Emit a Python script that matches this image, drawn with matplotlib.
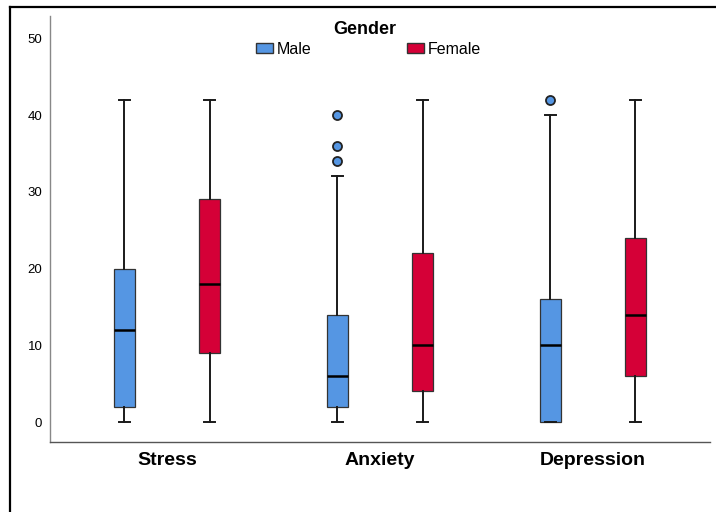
import matplotlib.pyplot as plt
from matplotlib.lines import Line2D
from matplotlib.patches import Rectangle

plt.rcParams['font.family'] = ['Liberation Sans', 'DejaVu Sans']

categories = ["Stress", "Anxiety", "Depression"]
groups = ["Male", "Female"]

# five-number summaries per scale: (whislo, q1, med, q3, whishi)
male_stats = [(0, 2, 12, 20, 42), (0, 2, 6, 14, 32), (0, 0, 10, 16, 40)]
female_stats = [(0, 9, 18, 29, 42), (0, 4, 10, 22, 42), (0, 6, 14, 24, 42)]
male_outliers = [[], [34, 36, 40], [42]]
female_outliers = [[], [], []]

colors = {"Male": "#5596e3", "Female": "#d50037"}
offsets = {"Male": -0.2, "Female": 0.2}

fig = plt.figure(figsize=(7.16, 5.12), dpi=100)
ax = fig.add_axes([0.0698, 0.1367, 0.9218, 0.832])


def to_bxp(stats, fliers, label):
    lo, q1, med, q3, hi = stats
    return dict(whislo=lo, q1=q1, med=med, q3=q3, whishi=hi,
                fliers=fliers, label=label)


for g, all_stats, all_out in [("Male", male_stats, male_outliers),
                              ("Female", female_stats, female_outliers)]:
    data = [to_bxp(s, o, c) for s, o, c in zip(all_stats, all_out, categories)]
    pos = [i + offsets[g] for i in range(len(categories))]
    ax.bxp(data, positions=pos, widths=0.1, patch_artist=True,
           showfliers=True, manage_ticks=False,
           boxprops=dict(facecolor=colors[g], edgecolor="#333333", linewidth=0.9),
           medianprops=dict(color="black", linewidth=1.8),
           whiskerprops=dict(color="#1a1a1a", linewidth=1.4),
           capprops=dict(color="#1a1a1a", linewidth=1.4),
           capwidths=0.05,
           flierprops=dict(marker="o", markersize=6.5, markerfacecolor=colors[g],
                           markeredgecolor="#222222", markeredgewidth=1.3))

ax.set_xlim(-0.55, 2.55)
ax.set_ylim(-2.6, 52.9)
ax.set_xticks(range(len(categories)))
ax.set_xticklabels(categories, fontsize=14, fontweight="bold")
ax.set_yticks([0, 10, 20, 30, 40, 50])
ax.tick_params(axis="y", length=0, labelsize=9.5, pad=5.5)
ax.tick_params(axis="x", length=0, pad=7)
for s in ["top", "right"]:
    ax.spines[s].set_visible(False)
ax.spines["left"].set_color("#888888")
ax.spines["bottom"].set_color("#555555")
ax.spines["left"].set_linewidth(1.0)
ax.spines["bottom"].set_linewidth(1.0)

# legend: title, colour keys and labels
fig.text(0.51, 0.943, "Gender", ha="center", va="center",
         fontsize=13, fontweight="bold")
key_x = {"Male": 0.3575, "Female": 0.5684}
for g in groups:
    fig.add_artist(Rectangle((key_x[g], 0.8965), 0.0237, 0.0195,
                             transform=fig.transFigure, facecolor=colors[g],
                             edgecolor="#333333", linewidth=1.0))
    fig.text(key_x[g] + 0.0295, 0.904, g, ha="left", va="center", fontsize=11.5)

# outer frame
fig.add_artist(Line2D([0.014, 1.0], [0.986, 0.986], color="black", linewidth=1.6))
fig.add_artist(Line2D([0.014, 0.014], [0.0, 0.986], color="black", linewidth=1.6))

fig.savefig("out.png", dpi=100)
